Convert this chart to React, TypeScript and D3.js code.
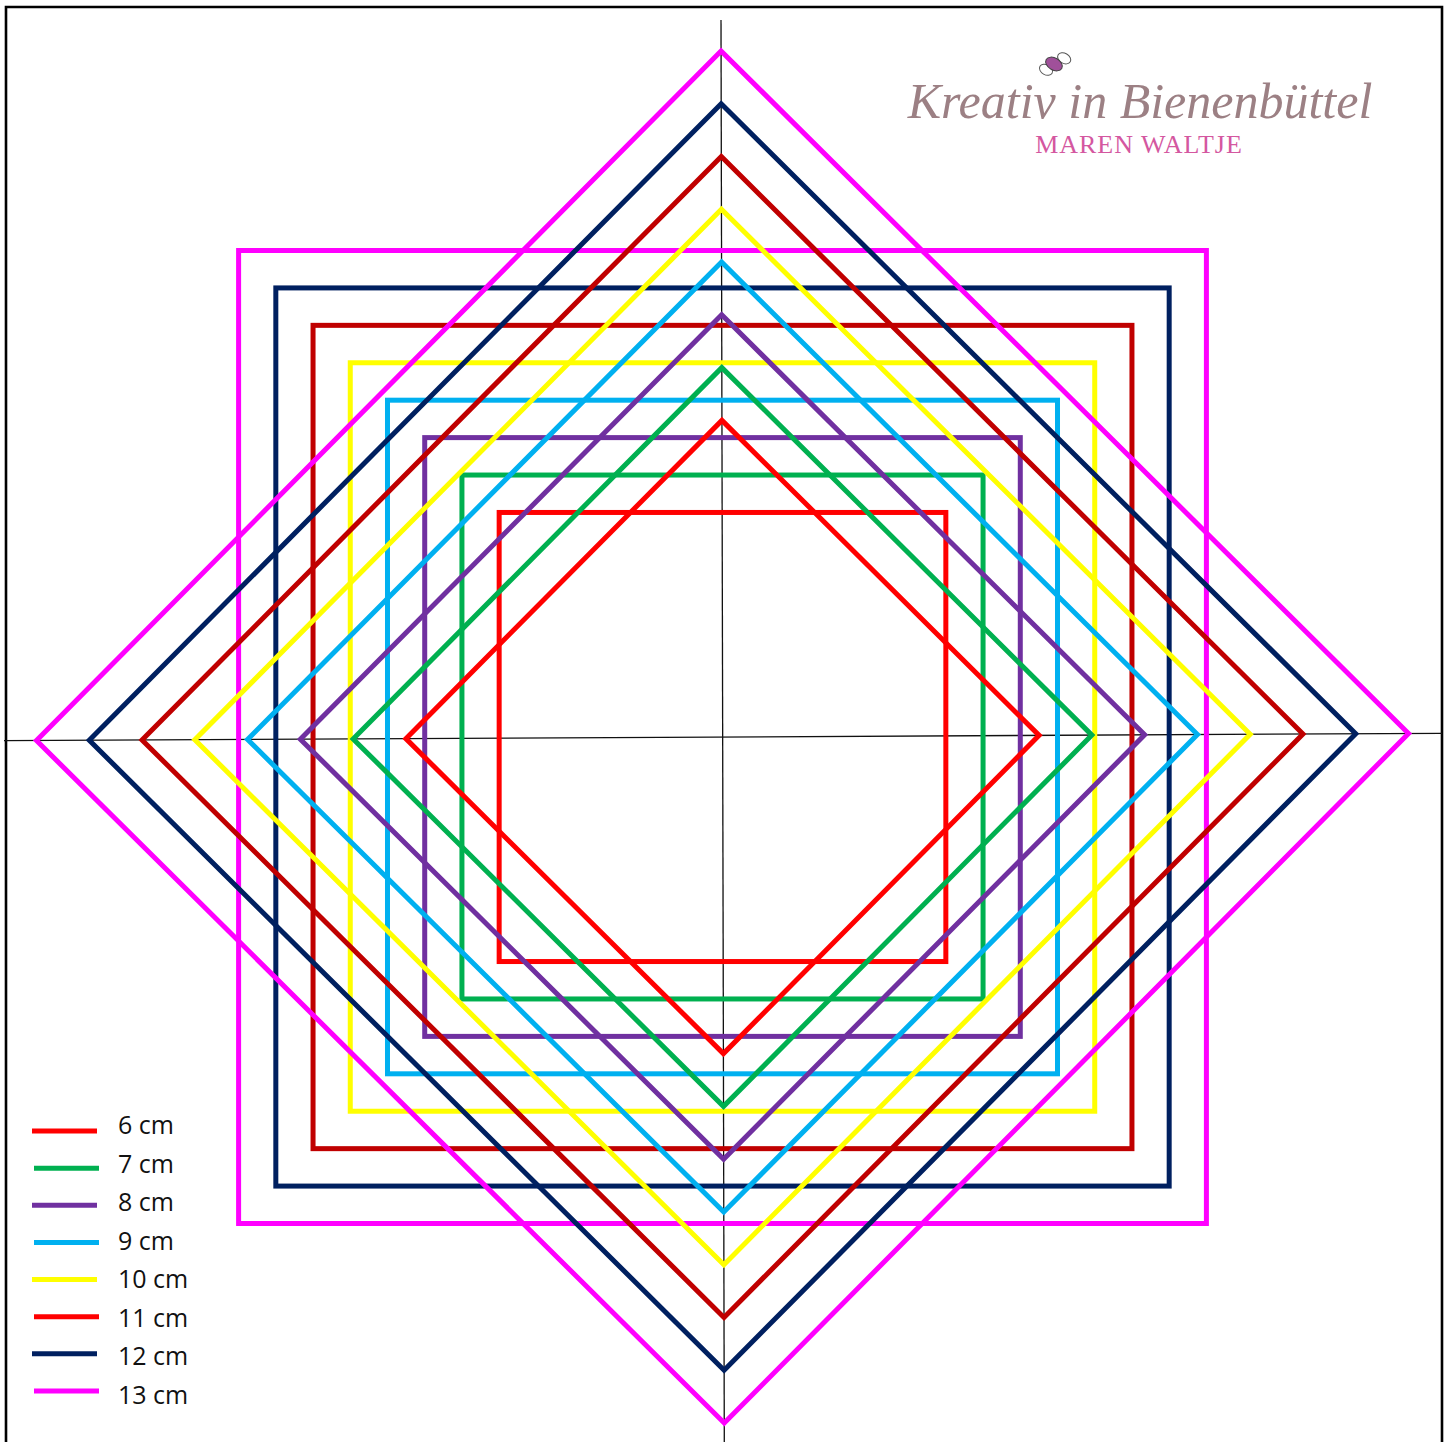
import {useEffect, useRef} from "react"

import * as d3 from "d3"

// sizes in cm, one square + one diamond each
const sizes = [6, 7, 8, 9, 10, 11, 12, 13]
const shapeColors = ["#ff0000", "#00b050", "#7030a0", "#00b0f0", "#ffff00", "#c00000", "#002060", "#ff00ff"]
const legendColors = ["#ff0000", "#00b050", "#7030a0", "#00b0f0", "#ffff00", "#ff0000", "#002060", "#ff00ff"]
const legendLabels = ["6 cm", "7 cm", "8 cm", "9 cm", "10 cm", "11 cm", "12 cm", "13 cm"]

const width = 1450
const height = 1442
const center = {x: 722.5, y: 737}

const App = (): JSX.Element => {
  const ref = useRef<SVGSVGElement>(null)

  useEffect(() => {
    if (!ref.current) return
    const svg = d3.select(ref.current)
    svg.selectAll("*").remove()

    // half size of the square (px) per cm
    const halfX = d3.scaleLinear().domain([0, 13]).range([0, 483.9])
    const halfY = d3.scaleLinear().domain([0, 13]).range([0, 486.5])
    // half diagonal of the diamond per cm
    const halfD = d3.scaleLinear().domain([0, 13]).range([0, 686])

    // the hand drawn axes are slightly tilted
    const hAxis = d3.scaleLinear().domain([4, 1442]).range([740.7, 733.3])
    const vAxis = d3.scaleLinear().domain([20, 1442]).range([721, 724.3])

    // frame
    svg
      .append("path")
      .attr("d", `M6,${height + 10}V7H1442V${height + 10}`)
      .attr("fill", "none")
      .attr("stroke", "#000")
      .attr("stroke-width", 2.6)

    // axes
    svg
      .append("line")
      .attr("x1", 4)
      .attr("x2", 1442)
      .attr("y1", hAxis(4))
      .attr("y2", hAxis(1442))
      .attr("stroke", "#111")
      .attr("stroke-width", 1.3)
    svg
      .append("line")
      .attr("x1", vAxis(20))
      .attr("x2", vAxis(1442))
      .attr("y1", 20)
      .attr("y2", 1442)
      .attr("stroke", "#111")
      .attr("stroke-width", 1.3)

    const shapes = svg.append("g")

    sizes.forEach((size, i) => {
      shapes
        .append("rect")
        .attr("x", center.x - halfX(size))
        .attr("y", center.y - halfY(size))
        .attr("width", halfX(size) * 2)
        .attr("height", halfY(size) * 2)
        .attr("fill", "none")
        .attr("stroke", shapeColors[i])
        .attr("stroke-width", 5)
    })

    sizes.forEach((size, i) => {
      const d = halfD(size)
      const top: [number, number] = [vAxis(center.y - d), center.y - d]
      const bottom: [number, number] = [vAxis(center.y + d), center.y + d]
      const left: [number, number] = [center.x - d, hAxis(center.x - d)]
      const right: [number, number] = [center.x + d, hAxis(center.x + d)]
      shapes
        .append("path")
        .attr("d", d3.line()([top, right, bottom, left]) + "Z")
        .attr("fill", "none")
        .attr("stroke", shapeColors[i])
        .attr("stroke-width", 5)
        .attr("stroke-linejoin", "miter")
        .attr("stroke-miterlimit", 10)
    })

    // legend
    const lineY = d3.scalePoint().domain(legendLabels).range([1131, 1391])
    const textY = d3.scalePoint().domain(legendLabels).range([1134, 1404])
    const legend = svg.append("g")
    legendLabels.forEach((label, i) => {
      const y = lineY(label) as number
      legend
        .append("line")
        .attr("x1", 32 + (i % 2) * 2)
        .attr("x2", 97 + (i % 2) * 2)
        .attr("y1", y)
        .attr("y2", y)
        .attr("stroke", legendColors[i])
        .attr("stroke-width", 5)
      legend
        .append("text")
        .attr("x", 118)
        .attr("y", textY(label) as number)
        .attr("font-family", "Open Sans, Liberation Sans, sans-serif")
        .attr("font-size", 25)
        .attr("fill", "#111")
        .text(label)
    })

    // logo
    const logo = svg.append("g")
    logo
      .append("text")
      .attr("x", 1140)
      .attr("y", 118)
      .attr("text-anchor", "middle")
      .attr("font-family", "Liberation Serif, serif")
      .attr("font-style", "italic")
      .attr("font-size", 50)
      .attr("fill", "#9c8084")
      .text("Kreativ in Bienenbüttel")
    logo
      .append("text")
      .attr("x", 1139)
      .attr("y", 153)
      .attr("text-anchor", "middle")
      .attr("font-family", "Liberation Serif, serif")
      .attr("font-size", 26)
      .attr("letter-spacing", 1)
      .attr("fill", "#d457a0")
      .text("MAREN WALTJE")
    const bee = logo.append("g").attr("transform", "translate(1054,64) rotate(30)")
    bee
      .append("ellipse")
      .attr("cx", 6)
      .attr("cy", -10)
      .attr("rx", 7)
      .attr("ry", 5)
      .attr("fill", "#fff")
      .attr("stroke", "#555")
    bee
      .append("ellipse")
      .attr("cx", -4)
      .attr("cy", 9)
      .attr("rx", 7)
      .attr("ry", 5)
      .attr("fill", "#fff")
      .attr("stroke", "#555")
    bee
      .append("ellipse")
      .attr("rx", 9)
      .attr("ry", 6)
      .attr("fill", "#a0509a")
      .attr("stroke", "#444")
  }, [])

  return (
    <svg
      ref={ref}
      width={width}
      height={height}
      style={{position: "absolute", left: 0, top: 0, background: "#fff"}}
    />
  )
}

export default App
